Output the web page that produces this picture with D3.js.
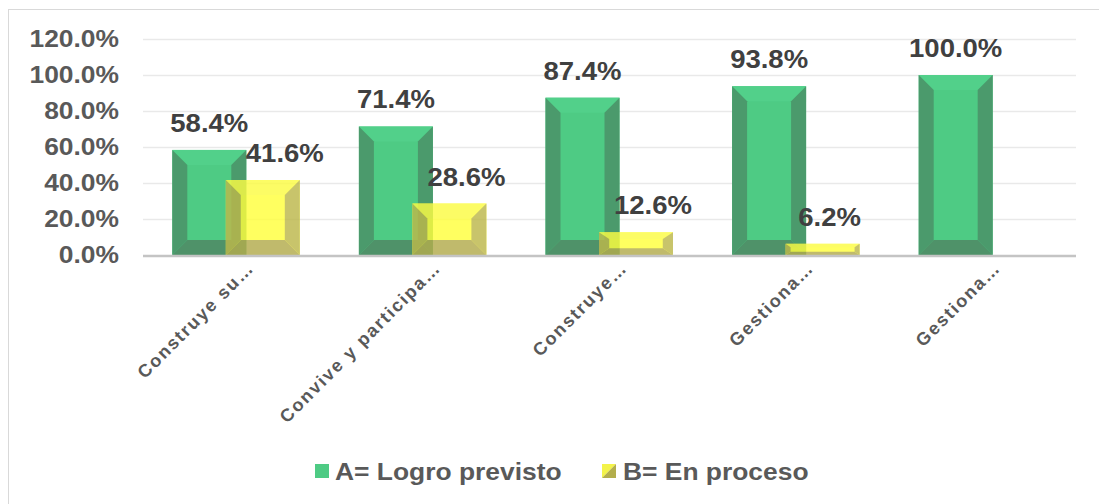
<!DOCTYPE html>
<html>
<head>
<meta charset="utf-8">
<script src="https://cdn.jsdelivr.net/npm/d3@7"></script>
<style>
  body { margin: 0; background: #fff; }
  svg { display: block; font-family: "Liberation Sans", Arial, sans-serif; }
</style>
</head>
<body>
<svg id="chart" width="1099" height="504"></svg>
<script>
// chart data
const categories = ['Construye su…', 'Convive y participa…', 'Construye…', 'Gestiona…', 'Gestiona…']
const logroPrevisto = [58.4, 71.4, 87.4, 93.8, 100.0]
const enProceso = [41.6, 28.6, 12.6, 6.2, 0]
const yTicks = [0, 20, 40, 60, 80, 100, 120]
const seriesNames = ['A= Logro previsto', 'B= En proceso']

// layout
const plotLeft = 143, plotRight = 1076, plotTop = 39, plotBottom = 255
const barW = 74
const stretch = 1.1               // the source text is a bit wide
const procesoLabelShift = [22, 17, 17, 7, 0]

const green = { face: '#4ecb84', top: '#52d08a', side: '#4b9a6c', bottom: '#4f9269' }
const yellow = { face: '#ffff3e', top: '#fcfc44', side: '#bdb84b', bottom: '#b3ac4d' }

const svg = d3.select('#chart')

// outer frame
svg.append('rect')
  .attr('x', 8.5).attr('y', 9.5)
  .attr('width', 1100).attr('height', 500)
  .attr('fill', 'none').attr('stroke', '#d9d9d9')

const x = d3.scaleBand()
  .domain(d3.range(categories.length))
  .range([plotLeft, plotRight])
  .padding(0)

const y = d3.scaleLinear().domain([0, 120]).range([plotBottom, plotTop])

const offset = d3.scalePoint().domain(seriesNames).range([-27, 26.5])

// gridlines
svg.append('g')
  .selectAll('line')
  .data(yTicks.filter(d => d > 0))
  .join('line')
  .attr('x1', plotLeft).attr('x2', plotRight)
  .attr('y1', d => y(d) + 0.5).attr('y2', d => y(d) + 0.5)
  .attr('stroke', '#e9e9e9').attr('stroke-width', 1.3)

// y axis labels
const yAxis = svg.append('g')
  .attr('transform', `translate(${plotLeft},0)`)
  .call(d3.axisLeft(y).tickValues(yTicks).tickSize(0).tickFormat(d => d.toFixed(1) + '%'))
yAxis.select('.domain').remove()
yAxis.selectAll('text')
  .attr('x', -24 / stretch)
  .attr('dy', '0.33em')
  .attr('transform', `scale(${stretch},1)`)
  .attr('fill', '#595959')
  .attr('font-size', 24)
  .attr('font-weight', 'bold')

function bevelBar(g, cx, value, col) {
  const x0 = cx - barW / 2, x1 = cx + barW / 2
  const y0 = y(value), y1 = y(0)
  const h = y1 - y0
  const bh = Math.min(15, h * 0.3)
  const bw = Math.min(15, h * 0.45)
  const poly = pts => pts.map(p => p.join(',')).join(' ')
  g.append('rect').attr('x', x0).attr('y', y0).attr('width', barW).attr('height', h).attr('fill', col.face)
  g.append('polygon').attr('points', poly([[x0, y0], [x1, y0], [x1 - bw, y0 + bh], [x0 + bw, y0 + bh]])).attr('fill', col.top)
  g.append('polygon').attr('points', poly([[x0, y0], [x0 + bw, y0 + bh], [x0 + bw, y1 - bh], [x0, y1]])).attr('fill', col.side)
  g.append('polygon').attr('points', poly([[x1, y0], [x1, y1], [x1 - bw, y1 - bh], [x1 - bw, y0 + bh]])).attr('fill', col.side)
  g.append('polygon').attr('points', poly([[x0, y1], [x0 + bw, y1 - bh], [x1 - bw, y1 - bh], [x1, y1]])).attr('fill', col.bottom)
}

const center = i => x(i) + x.bandwidth() / 2

const gGreen = svg.append('g')
logroPrevisto.forEach((v, i) => bevelBar(gGreen, center(i) + offset(seriesNames[0]), v, green))

const gYellow = svg.append('g').attr('opacity', 0.82)
enProceso.forEach((v, i) => { if (v > 0) bevelBar(gYellow, center(i) + offset(seriesNames[1]), v, yellow) })

// axis line
svg.append('line')
  .attr('x1', plotLeft).attr('x2', plotRight)
  .attr('y1', plotBottom + 1).attr('y2', plotBottom + 1)
  .attr('stroke', '#c4c4c4').attr('stroke-width', 2.5)

// data labels
function label(cx, value, dx) {
  svg.append('text')
    .attr('transform', `translate(${cx + dx},${y(value) - 18}) scale(${stretch},1)`)
    .attr('text-anchor', 'middle')
    .attr('fill', '#404040')
    .attr('font-size', 25)
    .attr('font-weight', 'bold')
    .text(value.toFixed(1) + '%')
}
logroPrevisto.forEach((v, i) => label(center(i) + offset(seriesNames[0]), v, 0))
enProceso.forEach((v, i) => { if (v > 0) label(center(i) + offset(seriesNames[1]), v, procesoLabelShift[i]) })

// category labels
const xAxis = svg.append('g')
  .attr('transform', `translate(0,${plotBottom})`)
  .call(d3.axisBottom(x).tickSize(0).tickFormat(i => categories[i]))
xAxis.select('.domain').remove()
xAxis.selectAll('text')
  .attr('x', 0).attr('y', 0).attr('dy', 0)
  .attr('text-anchor', 'end')
  .attr('transform', 'translate(19,14) rotate(-45)')
  .attr('fill', '#595959')
  .attr('font-size', 18)
  .attr('font-weight', 'bold')
  .attr('letter-spacing', 1.8)

// legend
const legend = svg.append('g')
const lg = [{ x: 315, tx: 335 }, { x: 602, tx: 623 }]
legend.append('rect').attr('x', lg[0].x).attr('y', 464).attr('width', 14).attr('height', 14).attr('fill', green.face)
legend.append('polygon').attr('points', `${lg[1].x},464 ${lg[1].x + 14},464 ${lg[1].x},478`).attr('fill', '#f3f34a')
legend.append('polygon').attr('points', `${lg[1].x + 14},464 ${lg[1].x + 14},478 ${lg[1].x},478`).attr('fill', '#b3ae4c')
seriesNames.forEach((name, i) => {
  legend.append('text')
    .attr('transform', `translate(${lg[i].tx},480) scale(${stretch},1)`)
    .attr('fill', '#595959')
    .attr('font-size', 24)
    .attr('font-weight', 'bold')
    .text(name)
})
</script>
</body>
</html>
